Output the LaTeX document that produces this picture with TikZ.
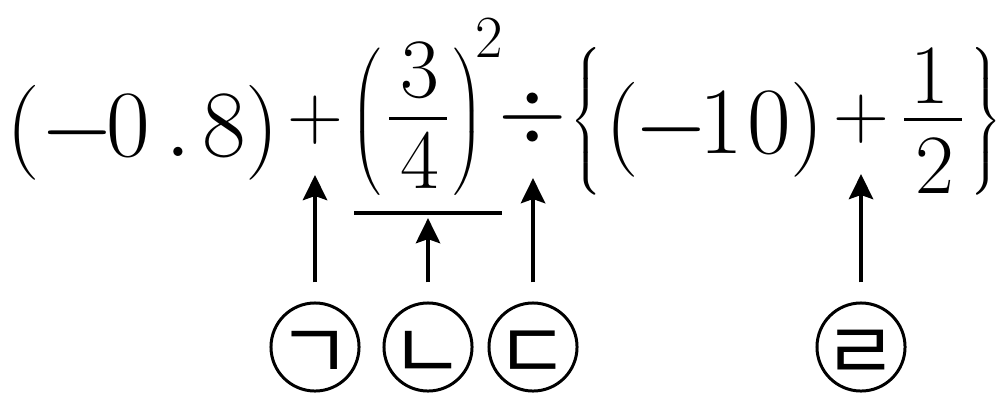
\RequirePackage{fix-cm}
\documentclass[tikz,border=0pt]{standalone}
\usepackage[no-math]{fontspec}
\newfontfamily\kfont{Noto Sans CJK KR}
\usetikzlibrary{arrows.meta}

% big delimiter, 1.8em high, with a narrow box
\newcommand{\bigdelim}[1]{$\nulldelimiterspace=0pt\mkern-3mu\left#1\vcenter to 1.7em{}\right.\mkern-3mu$}
% jamo set in a box of no size, centred on the node
\newcommand{\jamo}[1]{\smash{\makebox[0pt]{\raisebox{-0.42em}{#1}}}}

\begin{document}
\begin{tikzpicture}[x=0.01cm, y=-0.01cm]
    % Define styles
    \tikzstyle{term} = [inner sep=0pt, anchor=base, font=\fontsize{27}{32}\selectfont]
    \tikzstyle{op} = [inner sep=0pt, font=\fontsize{22}{26}\selectfont]
    \tikzstyle{digit} = [inner sep=0pt, anchor=base, font=\fontsize{24}{29}\selectfont]
    \tikzstyle{expo} = [inner sep=0pt, anchor=base, font=\fontsize{17}{20}\selectfont]
    \tikzstyle{delim} = [inner sep=0pt, font=\fontsize{23.6}{28}\selectfont]
    \tikzstyle{fbar} = [rectangle, fill=black, inner sep=0pt, minimum width=0.58cm, minimum height=0.03cm]
    \tikzstyle{ubar} = [rectangle, fill=black, inner sep=0pt, minimum width=1.48cm, minimum height=0.047cm]
    \tikzstyle{kcirc} = [circle, draw, line width=0.85pt, minimum size=0.88cm, inner sep=0pt, font=\kfont\fontsize{23}{28}\selectfont]
    \tikzstyle{ptr} = [draw, line width=1.3pt, shorten <=0.19cm, -{Stealth[length=0.25cm, width=0.24cm, inset=0.04cm]}]
    \tikzstyle{opptr} = [ptr, shorten >=0.30cm]

    \useasboundingbox (0,0) rectangle (1007,406);

    % Left part of the expression
    \node[term] (negA) at (143,156) {$(-\mkern-1.5mu0\,.\mkern2mu8)$};
    \node[op] (plusA) at (315,120) {$+$};
    \node[delim] (lparA) at (366,122) {\bigdelim(};
    \node[digit] (numA) at (420,97) {$3$};
    \node[fbar] (barA) at (418,118) {};
    \node[digit] (denA) at (420,188) {$4$};
    \node[delim] (rparA) at (469,122) {\bigdelim)};
    \node[expo] (powA) at (489,57) {$2$};
    \node[op, font=\fontsize{25}{30}\selectfont] (divA) at (533,118) {$\div$};

    % Braced part
    \node[delim] (lbrB) at (586,121) {\bigdelim\{};
    \node[term] (negB) at (715,153) {$(\mkern-1mu-\mkern-1.6mu1\mkern0.8mu0)$};
    \node[op] (plusB) at (861,119) {$+$};
    \node[digit] (numB) at (930,103) {$1$};
    \node[fbar] (barB) at (933,119) {};
    \node[digit] (denB) at (935,193) {$2$};
    \node[delim] (rbrB) at (986,121) {\bigdelim\}};

    % Underline of the power
    \node[ubar] (ul) at (428,213) {};

    % Circled labels
    \node[kcirc] (kA) at (315,347) {\jamo{ㄱ}};
    \node[kcirc] (kB) at (428,347) {\jamo{ㄴ}};
    \node[kcirc] (kC) at (533,347) {\jamo{ㄷ}};
    \node[kcirc] (kD) at (861,347) {\jamo{ㄹ}};

    % Arrows
    \draw[opptr] (kA) -- (plusA);
    \draw[ptr, shorten >=0.02cm] (kB) -- (ul);
    \draw[opptr] (kC) -- (divA);
    \draw[opptr] (kD) -- (plusB);
\end{tikzpicture}
\end{document}
